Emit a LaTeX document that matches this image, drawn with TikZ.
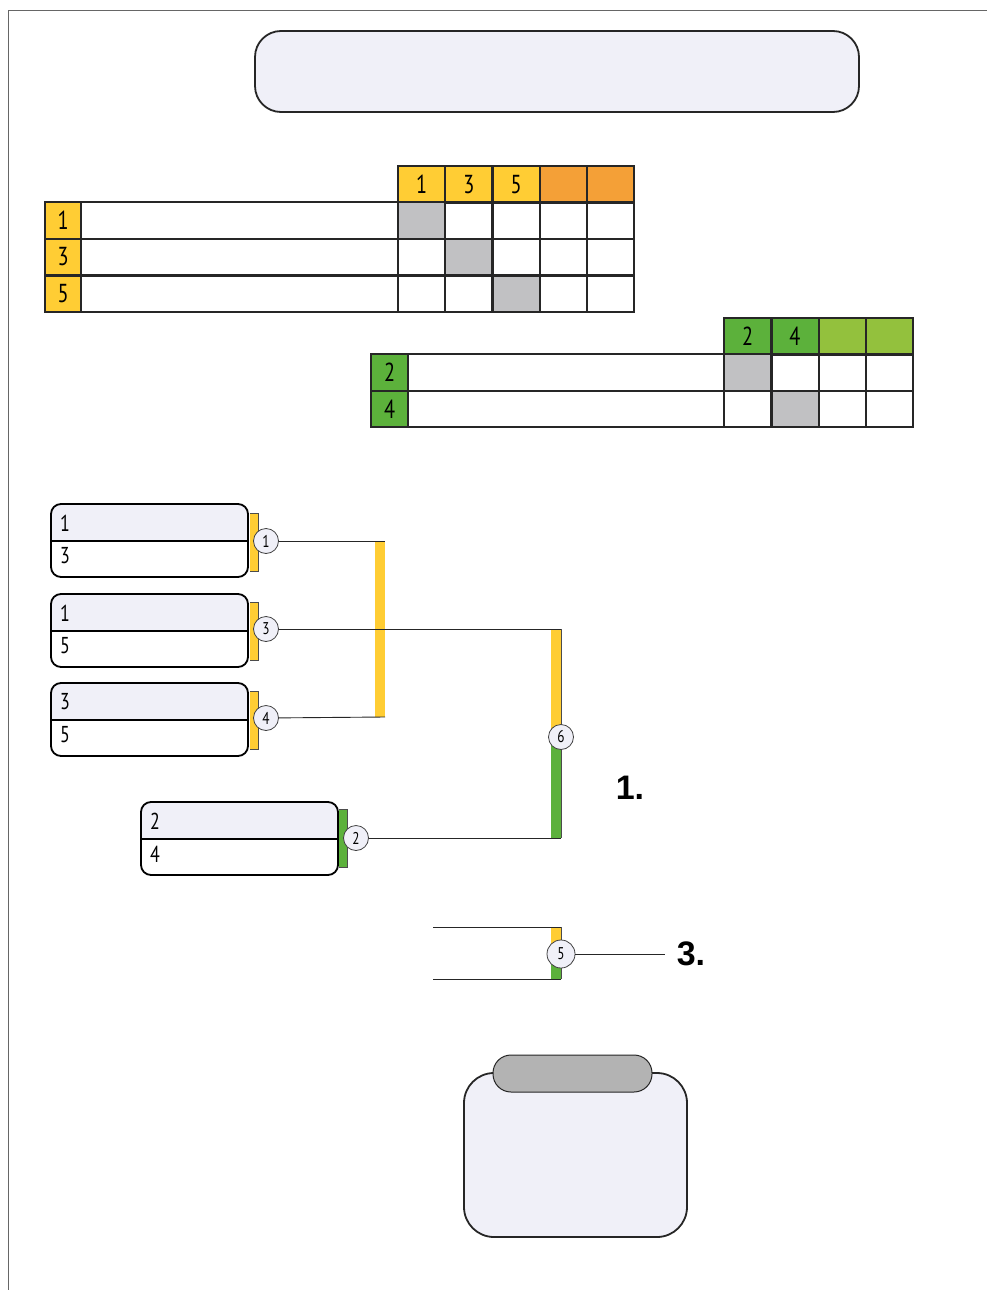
\documentclass[tikz,border=0pt]{standalone}
\usepackage{fontspec}
\setmainfont{PT Sans}
\newfontfamily\numfont[FakeStretch=0.78]{PT Sans}
\newfontfamily\rankfont{Liberation Sans}
\usetikzlibrary{positioning}

\definecolor{lav}{HTML}{F0F0F8}
\definecolor{yel}{HTML}{FFCD34}
\definecolor{org}{HTML}{F4A037}
\definecolor{grn}{HTML}{5CB13B}
\definecolor{lgrn}{HTML}{93C13D}
\definecolor{gry}{HTML}{C1C1C3}
\definecolor{tabgry}{HTML}{B3B3B3}

\tikzset{
	cell/.style={draw=black!85, line width=2.2pt, minimum width=47.2pt, minimum height=36.5pt,
		inner sep=0pt, anchor=north west, font=\numfont\fontsize{26}{26}\selectfont},
	panel/.style={draw=black!85, line width=1.8pt, fill=lav, rounded corners=#1, inner sep=0pt},
	boxnum/.style={anchor=west, inner sep=0pt, font=\numfont\fontsize{23}{23}\selectfont},
	round/.style={circle, draw=black!75, line width=0.8pt, fill=lav, minimum size=25pt, inner sep=0pt,
		font=\numfont\fontsize{17}{17}\selectfont},
	wire/.style={black!85, line width=0.9pt},
	rank/.style={font=\rankfont\bfseries\fontsize{34}{34}\selectfont, inner sep=0pt},
}

% match box: x, y, upper, lower, name
\newcommand\matchbox[5]{%
	\begin{scope}
		\clip[rounded corners=10pt] (#1,#2) rectangle ++(197,73);
		\fill[lav] (#1,#2) rectangle ++(197,37);
	\end{scope}
	\draw[line width=1.8pt, rounded corners=10pt] (#1,#2) rectangle ++(197,73);
	\draw[line width=1.8pt] (#1,#2+37) -- ++(197,0);
	\node[boxnum] (#5a) at (#1+9,#2+19) {#3};
	\node[boxnum] (#5b) at (#1+9,#2+52) {#4};
}
% bar beside a match box: x, top, bottom, colour
\newcommand\sidebar[4]{%
	\fill[#4] (#1,#2) rectangle (#1+8,#3);
	\draw[black!70, thin] (#1,#2) -| (#1+8,#3) -- (#1,#3);
}

\begin{document}
\begin{tikzpicture}[x=1pt, y=-1pt]
	\useasboundingbox (0,0) rectangle (987,1290);
	\draw[black!60, line width=0.8pt] (987,10) -- (8,10) -- (8,1290);

	% title
	\node[panel=26pt, minimum width=604pt, minimum height=81pt] (title) at (557,71.5) {};

	% group A table
	\foreach \n [count=\i from 0] in {1,3,5}
		\node[cell, fill=yel] (ha\n) at (397+47.2*\i,165) {\n};
	\foreach \i in {3,4}
		\node[cell, fill=org] (hax\i) at (397+47.2*\i,165) {};
	\foreach \n [count=\r from 0] in {1,3,5}{
		\node[cell, fill=yel, minimum width=36pt] (ra\n) at (44,201+36.7*\r) {\n};
		\node[cell, minimum width=317pt] (na\n) at (80,201+36.7*\r) {};
		\foreach \i in {0,...,4}
			\node[cell] (ca\n\i) at (397+47.2*\i,201+36.7*\r) {};
		\node[cell, fill=gry] (da\n) at (397+47.2*\r,201+36.7*\r) {};
	}

	% group B table
	\foreach \n [count=\i from 0] in {2,4}
		\node[cell, fill=grn] (hb\n) at (723+47.3*\i,317) {\n};
	\foreach \i in {2,3}
		\node[cell, fill=lgrn] (hbx\i) at (723+47.3*\i,317) {};
	\foreach \n [count=\r from 0] in {2,4}{
		\node[cell, fill=grn, minimum width=37pt] (rb\n) at (370,353+36.5*\r) {\n};
		\node[cell, minimum width=316pt] (nb\n) at (407,353+36.5*\r) {};
		\foreach \i in {0,...,3}
			\node[cell] (cb\n\i) at (723+47.3*\i,353+36.5*\r) {};
		\node[cell, fill=gry] (db\n) at (723+47.3*\r,353+36.5*\r) {};
	}

	% bracket
	\matchbox{51}{504}{1}{3}{ma}
	\matchbox{51}{594}{1}{5}{mb}
	\matchbox{51}{683}{3}{5}{mc}
	\matchbox{141}{802}{2}{4}{md}
	\sidebar{250}{513}{571}{yel}
	\sidebar{250}{602}{660}{yel}
	\sidebar{250}{691}{749}{yel}
	\sidebar{339}{809}{867}{grn}

	\fill[yel] (375,541) rectangle (385,717);
	\coordinate (semiA) at (385,541);
	\coordinate (semiB) at (385,717);

	\fill[yel] (551,629) rectangle (561,737);
	\fill[grn] (551,737) rectangle (561,838);
	\coordinate (finA) at (561,629);
	\coordinate (finB) at (561,838);
	\draw[black!70, thin] (finA) -- (finB);

	\node[round] (r1) at (266,541) {1};
	\node[round] (r3) at (266,629) {3};
	\node[round] (r4) at (266,718) {4};
	\node[round] (r2) at (356,838) {2};
	\node[round] (r6) at (561,737) {6};

	\draw[wire] (r1) -- (semiA);
	\draw[wire] (r4) -- (semiB);
	\draw[wire] (r3) -- (finA);
	\draw[wire] (r2) -- (finB);

	\node[rank] (first) at (630,788) {1.};

	% third place
	\coordinate (thA) at (433,927);
	\coordinate (thB) at (433,979);
	\coordinate (thA2) at (561,927);
	\coordinate (thB2) at (561,979);
	\fill[yel] (551,927) rectangle (561,954);
	\fill[grn] (551,954) rectangle (561,979);
	\draw[black!70, thin] (thA2) -- (thB2);
	\draw[wire] (thA) -- (thA2);
	\draw[wire] (thB) -- (thB2);
	\node[round, minimum size=28pt] (r5) at (561,954) {5};
	\node[rank] (third) at (691,954) {3.};
	\draw[wire, shorten >=12pt] (r5) -- (third);

	% result
	\node[panel=30pt, minimum width=223pt, minimum height=164pt] (result) at (575.5,1155) {};
	\node[panel=18pt, fill=tabgry, line width=1pt, minimum width=159pt, minimum height=37pt] (resulttab) at (572.5,1073.5) {};
\end{tikzpicture}
\end{document}
